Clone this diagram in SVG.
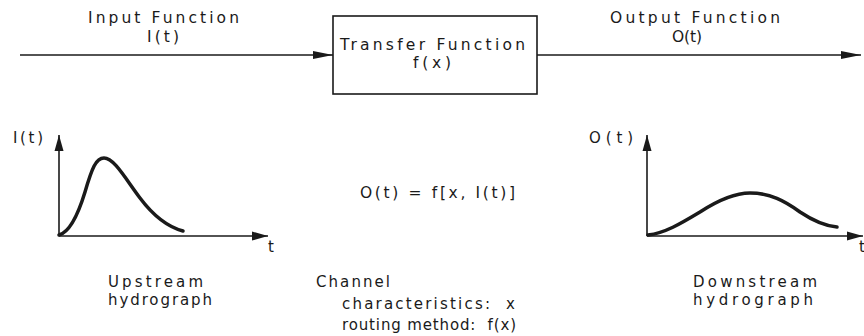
<svg xmlns="http://www.w3.org/2000/svg" width="864" height="336" viewBox="0 0 864 336">
<style>
text{font-family:"DejaVu Sans","Liberation Sans",Arial,sans-serif;fill:#1a1a1a;}
.t17{font-size:15.5px;}
.t16{font-size:15.5px;}
.t15{font-size:15px;}
.ln{stroke:#1a1a1a;stroke-width:1.6;fill:none;}
.crv{stroke:#1a1a1a;stroke-width:3.5;fill:none;stroke-linecap:round;}
</style>
<defs>
<marker id="ah" markerWidth="20" markerHeight="10" refX="20" refY="5" orient="auto" markerUnits="userSpaceOnUse">
<path d="M0,1 L20,5 L0,9 Z" fill="#1a1a1a"/>
</marker>
<marker id="ax" markerWidth="16" markerHeight="10" refX="16" refY="5" orient="auto" markerUnits="userSpaceOnUse">
<path d="M0,0.5 L16,5 L0,9.5 Z" fill="#1a1a1a"/>
</marker>
</defs>
<rect width="864" height="336" fill="#ffffff"/>
<g id="connectors">
<line class="ln" x1="20" y1="55" x2="333" y2="55" marker-end="url(#ah)"/>
<line class="ln" x1="537" y1="55" x2="861" y2="55" marker-end="url(#ah)"/>
</g>
<g id="input-label">
<text class="t17" x="88" y="23" textLength="151" lengthAdjust="spacing">Input Function</text>
<text class="t17" x="147" y="42" textLength="32" lengthAdjust="spacing">I(t)</text>
</g>
<g id="transfer-function">
<rect x="333" y="16" width="204" height="78" class="ln"/>
<text class="t16" x="340" y="50" textLength="185" lengthAdjust="spacing">Transfer Function</text>
<text class="t16" x="413" y="68" textLength="38" lengthAdjust="spacing">f(x)</text>
</g>
<g id="output-label">
<text class="t17" x="610" y="23" textLength="170" lengthAdjust="spacing">Output Function</text>
<text class="t17" x="672" y="42" textLength="30" lengthAdjust="spacing">O(t)</text>
</g>
<g id="upstream-graph">
<line class="ln" x1="59" y1="236" x2="59" y2="135" marker-end="url(#ax)"/>
<line class="ln" x1="59" y1="236" x2="268" y2="236" marker-end="url(#ax)"/>
<path class="crv" d="M59,235 C70,232 78,215 85,192 C92,168 96,158 104,158 C114,158 125,178 140,198 C155,218 168,227 183,231"/>
<text class="t15" x="13" y="143" textLength="30" lengthAdjust="spacing">I(t)</text>
<text class="t15" x="268" y="252">t</text>
<text class="t15" x="108" y="287" textLength="95" lengthAdjust="spacing">Upstream</text>
<text class="t15" x="108" y="305" textLength="104" lengthAdjust="spacing">hydrograph</text>
</g>
<g id="equation">
<text class="t16" x="360" y="198" textLength="155" lengthAdjust="spacing">O(t) = f[x, I(t)]</text>
</g>
<g id="channel">
<text class="t15" x="316" y="287" textLength="74" lengthAdjust="spacing">Channel</text>
<text class="t15" x="342" y="309" textLength="173" lengthAdjust="spacing" xml:space="preserve">characteristics:  x</text>
<text class="t15" x="342" y="330" textLength="174" lengthAdjust="spacing" xml:space="preserve">routing method:  f(x)</text>
</g>
<g id="downstream-graph">
<line class="ln" x1="647" y1="236" x2="647" y2="135" marker-end="url(#ax)"/>
<line class="ln" x1="647" y1="236" x2="863" y2="236" marker-end="url(#ax)"/>
<path class="crv" d="M648,235 C665,233 680,224 700,212 C720,199 735,193 750,193 C770,193 785,201 800,212 C815,222 825,226 837,227"/>
<text class="t15" x="589" y="143" textLength="44" lengthAdjust="spacing">O(t)</text>
<text class="t15" x="859" y="252">t</text>
<text class="t15" x="693" y="287" textLength="124" lengthAdjust="spacing">Downstream</text>
<text class="t15" x="693" y="305" textLength="120" lengthAdjust="spacing">hydrograph</text>
</g>
</svg>
